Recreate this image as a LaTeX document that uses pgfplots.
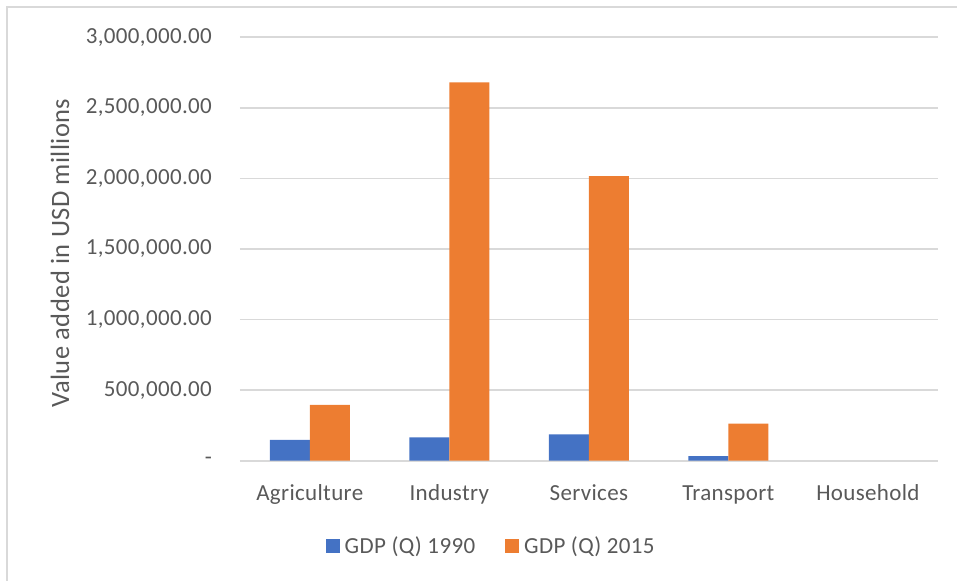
\documentclass[border=0pt]{standalone}
\usepackage{fontspec}
\setmainfont[LetterSpace=1.5]{Carlito}
\usepackage{pgfplots}
\pgfplotsset{compat=1.18}
\definecolor{gdpblue}{HTML}{4472C4}
\definecolor{gdporange}{HTML}{ED7D31}
\definecolor{gridgray}{HTML}{D9D9D9}
\definecolor{textgray}{HTML}{595959}
\begin{document}
\begin{tikzpicture}
\useasboundingbox (-240bp,-120.3bp) rectangle (717bp,460.7bp);
% chart area frame
\draw[gridgray, line width=1.2bp] (-233bp,-140bp) rectangle (740bp,453.7bp);
\begin{axis}[
  at={(0,0)}, anchor=south west,
  scale only axis,
  width=697.7bp, height=423.4bp,
  ybar=0pt, bar width=40bp,
  xmin=-0.5, xmax=4.5,
  ymin=0, ymax=3000000,
  scaled y ticks=false,
  xtick={0,1,2,3,4},
  xticklabels={Agriculture,Industry,Services,Transport,Household},
  ytick={0,500000,1000000,1500000,2000000,2500000,3000000},
  yticklabels={{-\hspace{10bp}},{500,000.00},{1,000,000.00},{1,500,000.00},{2,000,000.00},{2,500,000.00},{3,000,000.00}},
  major tick length=0pt,
  axis line style={draw=none},
  ymajorgrids,
  grid style={gridgray, line width=1.6bp},
  font=\fontsize{23bp}{27bp}\selectfont,
  every tick label/.append style={text=textgray},
  yticklabel style={anchor=east, inner sep=0pt, xshift=-28bp},
  xticklabel style={anchor=base, inner sep=0pt, yshift=-40bp},
  every axis y label/.style={at={(rel axis cs:-0.258,0.4905)}, rotate=90, anchor=center, text=textgray, font=\fontsize{26.5bp}{30bp}\selectfont},
  ylabel={Value added in USD millions},
  legend columns=2,
  legend style={at={(rel axis cs:0.36,-0.2008)}, anchor=center, draw=none, fill=none,
    font=\fontsize{23bp}{27bp}\selectfont, text=textgray,
    /tikz/every odd column/.append style={column sep=3bp},
    /tikz/every even column/.append style={column sep=28bp}},
  legend cell align=left,
]
\addplot[fill=gdpblue, draw=none,
  legend image code/.code={\fill[gdpblue] (0bp,-7bp) rectangle (14bp,7bp);}]
  coordinates {(0,147000) (1,166000) (2,187000) (3,33000)};
\addlegendentry{GDP (Q) 1990}
\addplot[fill=gdporange, draw=none,
  legend image code/.code={\fill[gdporange] (0bp,-7bp) rectangle (14bp,7bp);}]
  coordinates {(0,395000) (1,2681000) (2,2017000) (3,262000)};
\addlegendentry{GDP (Q) 2015}
\end{axis}
\end{tikzpicture}
\end{document}
